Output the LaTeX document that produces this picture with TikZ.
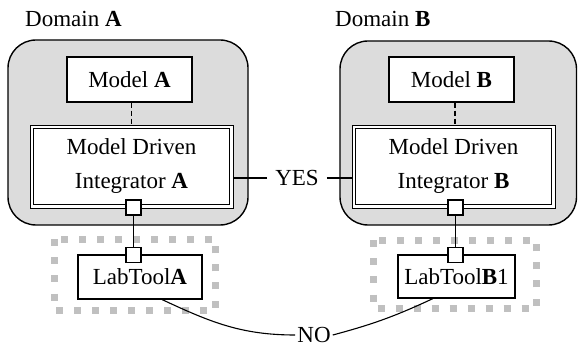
\documentclass[tikz,border=0pt]{standalone}
\usepackage{fontspec}
\setmainfont{Liberation Serif}
\definecolor{paneGray}{RGB}{220,220,220}
\definecolor{zoneGray}{RGB}{192,192,192}
\begin{document}
\begin{tikzpicture}[x=1pt,y=1pt,
  every node/.style={font=\fontsize{23}{34}\selectfont},
  panelbox/.style={draw, line width=1.4pt, rounded corners=28pt, fill=paneGray},
  box/.style={draw, line width=1.1pt, fill=white, inner sep=0pt},
  mdibox/.style={box, line width=0.9pt, minimum width=203pt, minimum height=83pt, align=center},
  port/.style={draw, line width=1.1pt, fill=white, minimum size=15pt, inner sep=0pt},
  toolzone/.style={draw=zoneGray, line width=7pt, dash pattern=on 7pt off 11pt},
  link/.style={line width=1.1pt},
  modellink/.style={line width=1.1pt, dash pattern=on 5pt off 3pt}]
\useasboundingbox (0,0) rectangle (578,-347);

% domain panels
\draw[panelbox] (8,-40) rectangle (248,-225);
\draw[panelbox] (340,-41) rectangle (576.5,-225);
\node[anchor=base west, inner sep=0pt] (labA) at (25,-27) {Domain \textbf{A}};
\node[anchor=base west, inner sep=0pt] (labB) at (335,-27) {Domain \textbf{B}};

% lab tool zones
\draw[toolzone] (54.5,-239.5) rectangle (215.5,-310);
\draw[toolzone] (373.5,-240.5) rectangle (536.5,-308.5);

% models
\node[box, minimum width=125pt, minimum height=45pt] (modelA) at (129.5,-79.5) {Model \textbf{A}};
\node[box, minimum width=125pt, minimum height=45pt] (modelB) at (451.5,-79.5) {Model \textbf{B}};

% integrators with double frame
\node[mdibox] (mdiA) at (131.5,-166.5) {Model Driven\\Integrator \textbf{A}};
\node[mdibox] (mdiB) at (453.5,-166.5) {Model Driven\\Integrator \textbf{B}};
\draw[line width=1.6pt] ([shift={(4pt,4pt)}]mdiA.south west) rectangle ([shift={(-4pt,-4pt)}]mdiA.north east);
\draw[line width=1.6pt] ([shift={(4pt,4pt)}]mdiB.south west) rectangle ([shift={(-4pt,-4pt)}]mdiB.north east);

% lab tools
\node[box, minimum width=124pt, minimum height=44pt] (ltA) at (140,-277) {LabTool\textbf{A}};
\node[box, minimum width=117pt, minimum height=43pt] (ltB) at (456.5,-276.5) {LabTool\textbf{B}1};

% model to integrator
\draw[modellink] (mdiA.north |- modelA.south) -- (mdiA.north);
\draw[modellink] ([xshift=1.5pt]mdiB.north |- modelB.south) -- ([xshift=1.5pt]mdiB.north);

% ports
\node[port] (pA1) at (133.5,-207.5) {};
\node[port] (pA2) at (133.5,-255) {};
\node[port] (pB1) at (455.5,-207.5) {};
\node[port] (pB2) at (455.5,-255) {};
\draw[link] (pA1.south) -- (pA2.north);
\draw[link] (pB1.south) -- (pB2.north);

% YES link
\node[inner xsep=8pt, inner ysep=0pt] (yes) at (297,-178) {YES};
\draw[link] (yes.west) -- (yes.west -| mdiA.east);
\draw[link] (yes.east) -- (yes.east -| mdiB.west);

% NO link
\node[inner xsep=2pt, inner ysep=0pt] (no) at (314,-335) {NO};
\draw[link] ([xshift=22pt]ltA.south) to[out=-25,in=180] (no.west);
\draw[link] ([xshift=-23.5pt]ltB.south) to[out=-155,in=15] (no.east);
\end{tikzpicture}
\end{document}
